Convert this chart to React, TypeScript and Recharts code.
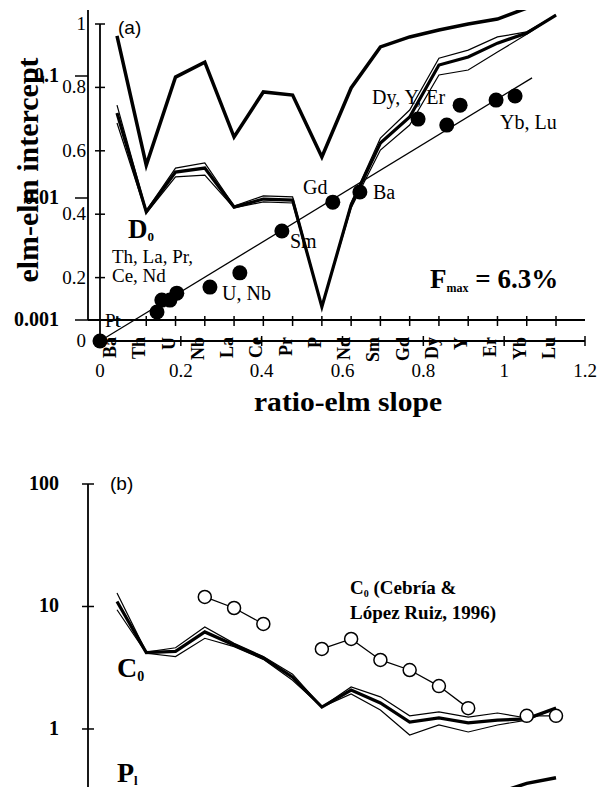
import React from 'react';
import { LineChart, Line, XAxis, YAxis, ScatterChart, Scatter, ReferenceLine } from 'recharts';

// ---------- data ----------
const elements = ['Ba', 'Th', 'U', 'Nb', 'La', 'Ce', 'Pr', 'P', 'Nd', 'Sm', 'Gd', 'Dy', 'Y', 'Er', 'Yb', 'Lu'];

// panel (a): bulk partition coefficient D0 curves (log axis)
const d0Upper = [0.213, 0.0186, 0.098, 0.13, 0.0316, 0.074, 0.0698, 0.0217, 0.0798, 0.173, 0.209, 0.238, 0.267, 0.293, 0.36, null];
const d0Main = [0.0498, 0.00767, 0.0163, 0.0176, 0.00843, 0.0098, 0.0096, 0.00128, 0.0088, 0.0282, 0.0461, 0.123, 0.143, 0.186, 0.225, 0.316];
const d0ThinA = [0.0578, 0.0079, 0.0176, 0.0194, 0.0086, 0.0104, 0.0102, 0.00128, 0.0091, 0.031, 0.0526, 0.14, 0.163, 0.209, 0.23, 0.316];
const d0ThinB = [0.0412, 0.0075, 0.0149, 0.0154, 0.0083, 0.0093, 0.0091, 0.00128, 0.0083, 0.0247, 0.0396, 0.102, 0.112, 0.157, 0.22, 0.316];

// panel (a): ratio-elm slope vs elm-elm intercept
const slopes = [0, 0.141, 0.153, 0.173, 0.19, 0.272, 0.346, 0.45, 0.576, 0.643, 0.787, 0.858, 0.891, 0.98, 1.027];
const intercepts = [0, 0.0915, 0.129, 0.129, 0.151, 0.17, 0.215, 0.347, 0.438, 0.47, 0.7, 0.681, 0.744, 0.76, 0.773];
const fitSlopes = [0, 1.069];
const fitIntercepts = [0, 0.83];

// panel (b): source concentrations C0
const c0Main = [11.0, 4.2, 4.3, 6.2, 4.85, 3.8, 2.65, 1.51, 2.08, 1.63, 1.14, 1.23, 1.12, 1.18, 1.21, 1.48];
const c0ThinA = [12.9, 4.25, 4.6, 6.8, 5.0, 3.9, 2.8, 1.51, 2.2, 1.83, 1.28, 1.38, 1.25, 1.35, 1.23, 1.48];
const c0ThinB = [9.4, 4.15, 3.9, 5.5, 4.7, 3.7, 2.5, 1.51, 1.93, 1.43, 0.893, 1.078, 0.945, 1.078, 1.18, 1.48];
const c0Cebria = [null, null, null, 11.96, 9.72, 7.2, null, 4.5, 5.43, 3.66, 3.03, 2.24, 1.48, null, 1.28, 1.28];
const plValues = [null, null, null, null, null, null, null, null, null, null, null, null, null, 0.3, 0.36, 0.4];

// ticks
const slopeTicks = [0, 0.2, 0.4, 0.6, 0.8, 1, 1.2];
const interceptTicks = [0, 0.2, 0.4, 0.6, 0.8, 1];
const logTicksA = [0.001, 0.01, 0.1];
const logTicksB = [1, 10, 100];

// ---------- tables ----------
const tableA = elements.map((el, i) => ({ el, upper: d0Upper[i], main: d0Main[i], thinA: d0ThinA[i], thinB: d0ThinB[i] }));
const tableB = elements.map((el, i) => ({ el, main: c0Main[i], thinA: c0ThinA[i], thinB: c0ThinB[i], cebria: c0Cebria[i], pl: plValues[i] }));
const points = slopes.map((s, i) => ({ slope: s, intercept: intercepts[i] }));
const fitSegment = fitSlopes.map((s, i) => ({ x: s, y: fitIntercepts[i] }));

const serif = '"Liberation Serif", "Times New Roman", serif';
const sans = '"Liberation Sans", Arial, sans-serif';
const axisStyle = { stroke: '#000', strokeWidth: 1.8 };

const SlopeTick = (p: any) => (
  <g>
    <line x1={p.x} x2={p.x} y1={p.y - 5} y2={p.y + 5} stroke="#000" strokeWidth={1.5} />
    <text x={p.x} y={p.y + 36} textAnchor="middle" fontFamily={serif} fontSize={19} fill="#000">{String(p.payload.value)}</text>
  </g>
);
const InterceptTick = (p: any) => (
  <g>
    <line x1={p.x - 5} x2={p.x + 5} y1={p.y} y2={p.y} stroke="#000" strokeWidth={1.5} />
    <text x={p.x - 14} y={p.y + 6} textAnchor="end" fontFamily={serif} fontSize={19} fill="#000">{String(p.payload.value)}</text>
  </g>
);
const LogTickA = (p: any) => (
  <g>
    <line x1={p.x - 13} x2={p.x} y1={p.y} y2={p.y} stroke="#000" strokeWidth={1.5} />
    <text x={p.x - 29} y={p.y + 6} textAnchor="end" fontFamily={serif} fontWeight="bold" fontSize={20} fill="#000">{String(p.payload.value)}</text>
  </g>
);
const LogTickB = (p: any) => (
  <g>
    <line x1={p.x - 6} x2={p.x + 6} y1={p.y} y2={p.y} stroke="#000" strokeWidth={1.5} />
    <text x={p.x - 29} y={p.y + 6} textAnchor="end" fontFamily={serif} fontWeight="bold" fontSize={20} fill="#000">{String(p.payload.value)}</text>
  </g>
);
const ElTick = (p: any) => (
  <g>
    <line x1={p.x} x2={p.x} y1={p.y - 4} y2={p.y + 6} stroke="#000" strokeWidth={1.5} />
    <text
      x={p.x - 1}
      y={p.y + 17}
      transform={`rotate(-90 ${p.x - 1} ${p.y + 17})`}
      textAnchor="end"
      fontFamily={serif}
      fontWeight="bold"
      fontSize={18}
      fill="#000"
    >
      {p.payload.value}
    </text>
  </g>
);

const FilledDot = (p: any) => <circle cx={p.cx} cy={p.cy} r={7.5} fill="#000" />;
const OpenDot = (p: any) => {
  if (p.cy == null || p.value == null || (Array.isArray(p.value) && p.value[1] == null)) return <g key={p.index} />;
  return <circle key={p.index} cx={p.cx} cy={p.cy} r={6.5} fill="#fff" stroke="#000" strokeWidth={1.5} />;
};

const abs = (top: number): React.CSSProperties => ({ position: 'absolute', left: 0, top });

export default function App() {
  return (
    <div style={{ position: 'absolute', left: 0, top: 0, width: 602, height: 787, background: '#fff', overflow: 'hidden' }}>
      {/* panel (a) inner: D0 curves on log axis vs elements */}
      <div style={abs(0)}>
        <LineChart width={602} height={420} data={tableA} margin={{ top: 10, right: 17, left: 0, bottom: 0 }}>
          <XAxis
            dataKey="el"
            type="category"
            height={100}
            padding={{ left: 29, right: 29 }}
            tickSize={0}
            tickMargin={0}
            tickLine={false}
            interval={0}
            tick={ElTick}
            axisLine={axisStyle}
          />
          <YAxis
            type="number"
            scale="log"
            domain={[0.001, 0.3475]}
            allowDataOverflow
            ticks={logTicksA}
            width={88}
            tickSize={0}
            tickMargin={0}
            tickLine={false}
            interval={0}
            tick={LogTickA}
            axisLine={axisStyle}
          />
          <Line dataKey="thinA" stroke="#000" strokeWidth={1.2} dot={false} isAnimationActive={false} />
          <Line dataKey="thinB" stroke="#000" strokeWidth={1.2} dot={false} isAnimationActive={false} />
          <Line dataKey="main" stroke="#000" strokeWidth={3.2} dot={false} isAnimationActive={false} />
          <Line dataKey="upper" stroke="#000" strokeWidth={3.5} dot={false} isAnimationActive={false} />
        </LineChart>
      </div>

      {/* panel (a) outer: slope vs intercept */}
      <div style={abs(0)}>
        <ScatterChart width={602} height={420} margin={{ top: 24, right: 17, left: 0, bottom: 0 }}>
          <XAxis
            type="number"
            dataKey="slope"
            domain={[0, 1.2]}
            ticks={slopeTicks}
            height={79}
            tickSize={0}
            tickMargin={0}
            tickLine={false}
            interval={0}
            tick={SlopeTick}
            axisLine={axisStyle}
          />
          <YAxis
            type="number"
            dataKey="intercept"
            domain={[0, 1]}
            ticks={interceptTicks}
            width={100}
            tickSize={0}
            tickMargin={0}
            tickLine={false}
            interval={0}
            tick={InterceptTick}
            axisLine={axisStyle}
          />
          <ReferenceLine segment={fitSegment} stroke="#000" strokeWidth={1.3} />
          <Scatter data={points} shape={FilledDot} isAnimationActive={false} />
        </ScatterChart>
      </div>

      {/* panel (b) */}
      <div style={abs(440)}>
        <LineChart width={602} height={347} data={tableB} margin={{ top: 44, right: 17, left: 0, bottom: 0 }}>
          <XAxis dataKey="el" type="category" hide padding={{ left: 29, right: 29 }} />
          <YAxis
            type="number"
            scale="log"
            domain={[0.336, 100]}
            allowDataOverflow
            ticks={logTicksB}
            width={88}
            tickSize={0}
            tickMargin={0}
            tickLine={false}
            interval={0}
            tick={LogTickB}
            axisLine={axisStyle}
          />
          <Line dataKey="thinA" stroke="#000" strokeWidth={1.2} dot={false} isAnimationActive={false} />
          <Line dataKey="thinB" stroke="#000" strokeWidth={1.2} dot={false} isAnimationActive={false} />
          <Line dataKey="main" stroke="#000" strokeWidth={3.2} dot={false} isAnimationActive={false} />
          <Line dataKey="pl" stroke="#000" strokeWidth={3.5} dot={false} isAnimationActive={false} />
          <Line dataKey="cebria" stroke="#000" strokeWidth={1.3} dot={OpenDot} isAnimationActive={false} />
        </LineChart>
      </div>

      {/* annotations */}
      <svg width={602} height={787} style={{ position: 'absolute', left: 0, top: 0, pointerEvents: 'none' }}>
        <g fontFamily={serif} fill="#000">
          <text x={118} y={34} fontFamily={sans} fontSize={19}>(a)</text>
          <text x={38} y={170} transform="rotate(-90 38 170)" textAnchor="middle" fontWeight="bold" fontSize={30}>elm-elm intercept</text>
          <text x={348} y={411} textAnchor="middle" fontWeight="bold" fontSize={28} textLength={188} lengthAdjust="spacingAndGlyphs">ratio-elm slope</text>
          <text x={105} y={327} fontSize={19}>Pt</text>
          <text x={112} y={263} fontSize={19}>Th, La, Pr,</text>
          <text x={112} y={282} fontSize={19}>Ce, Nd</text>
          <text x={222} y={300} fontSize={20}>U, Nb</text>
          <text x={290} y={248} fontSize={20}>Sm</text>
          <text x={303} y={194} fontSize={20}>Gd</text>
          <text x={373} y={199} fontSize={20}>Ba</text>
          <text x={372} y={104} fontSize={20}>Dy, Y, Er</text>
          <text x={500} y={129} fontSize={20}>Yb, Lu</text>
          <text x={128} y={238} fontWeight="bold" fontSize={27}>D<tspan fontSize={13} dy={3}>0</tspan></text>
          <text x={430} y={288} fontWeight="bold" fontSize={27}>F<tspan fontSize={12} dy={4}>max</tspan><tspan dy={-4}> = 6.3%</tspan></text>

          <text x={110} y={490} fontFamily={sans} fontSize={19}>(b)</text>
          <text x={117} y={677} fontWeight="bold" fontSize={28}>C<tspan fontSize={14} dy={4}>0</tspan></text>
          <text x={117} y={782} fontWeight="bold" fontSize={28}>P<tspan fontSize={13} dy={3}>l</tspan></text>
          <text x={350} y={594} fontWeight="bold" fontSize={19}>C<tspan fontSize={10} dy={3}>0</tspan><tspan dy={-3}> (Cebría &amp;</tspan></text>
          <text x={350} y={619} fontWeight="bold" fontSize={19}>López Ruiz, 1996)</text>
        </g>
      </svg>
    </div>
  );
}
